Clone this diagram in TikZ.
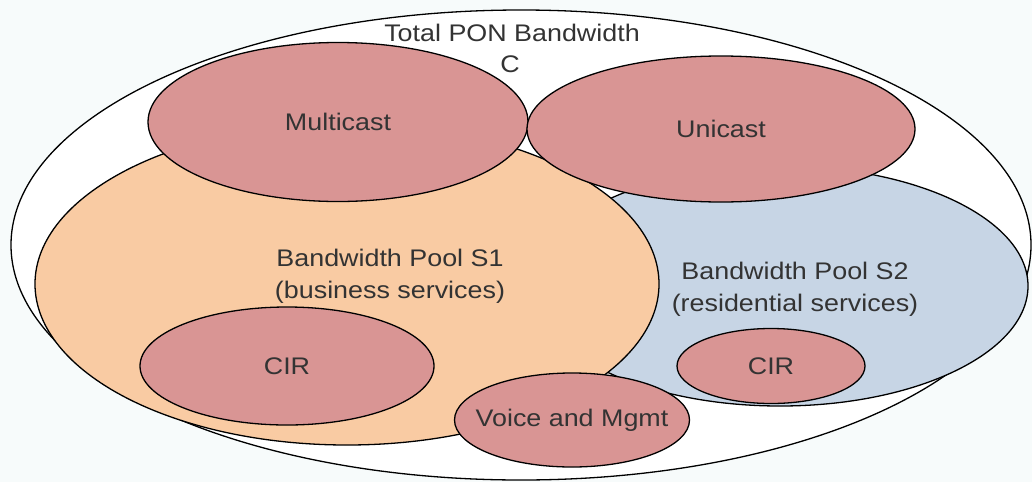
\documentclass[tikz,border=0pt]{standalone}
\usepackage{fontspec}
\setmainfont{Liberation Sans}[FakeStretch=1.12]
\usetikzlibrary{shapes.geometric}
\definecolor{bgc}{HTML}{F7FBFB}
\definecolor{pinkc}{HTML}{D99594}
\definecolor{orangec}{HTML}{F9CBA3}
\definecolor{bluec}{HTML}{C7D5E5}
\definecolor{txtc}{HTML}{333333}
\begin{document}
\begin{tikzpicture}[x=1pt,y=-1pt,
  blob/.style={ellipse,draw=black,line width=1.3pt,inner sep=0pt},
  lbl/.style={text=txtc,font=\fontsize{24}{32}\selectfont,align=center,inner sep=0pt}]
\fill[bgc] (0,0) rectangle (1032,482);
\useasboundingbox (0,0) rectangle (1032,482);
\node[blob,fill=white,minimum width=1020pt,minimum height=470pt] (total) at (521,245) {};
\node[blob,fill=bluec,minimum width=496pt,minimum height=240pt] (s2) at (780,286) {};
\node[blob,fill=orangec,minimum width=624pt,minimum height=322pt] (s1) at (347,284) {};
\node[blob,fill=pinkc,minimum width=380pt,minimum height=159pt] (mc) at (338,122) {};
\node[blob,fill=pinkc,minimum width=388pt,minimum height=146pt] (uc) at (721,129) {};
\node[blob,fill=pinkc,minimum width=294pt,minimum height=118pt] (cir1) at (287,366) {};
\node[blob,fill=pinkc,minimum width=188pt,minimum height=75pt] (cir2) at (771,366) {};
\node[blob,fill=pinkc,minimum width=235pt,minimum height=94pt] (vm) at (572,420) {};
\node[lbl] (tt) at (512,33) {Total PON Bandwidth};
\node[lbl] (tc) at (510,64) {C};
\node[lbl] (mct) at (mc) {Multicast};
\node[lbl] (uct) at (uc) {Unicast};
\node[lbl] (s1t) at (390,276) {Bandwidth Pool S1\\(business services)};
\node[lbl] (s2t) at (795,289) {Bandwidth Pool S2\\(residential services)};
\node[lbl] (c1t) at (cir1) {CIR};
\node[lbl] (c2t) at (cir2) {CIR};
\node[lbl] (vmt) at (vm) {Voice and Mgmt};
\end{tikzpicture}
\end{document}
